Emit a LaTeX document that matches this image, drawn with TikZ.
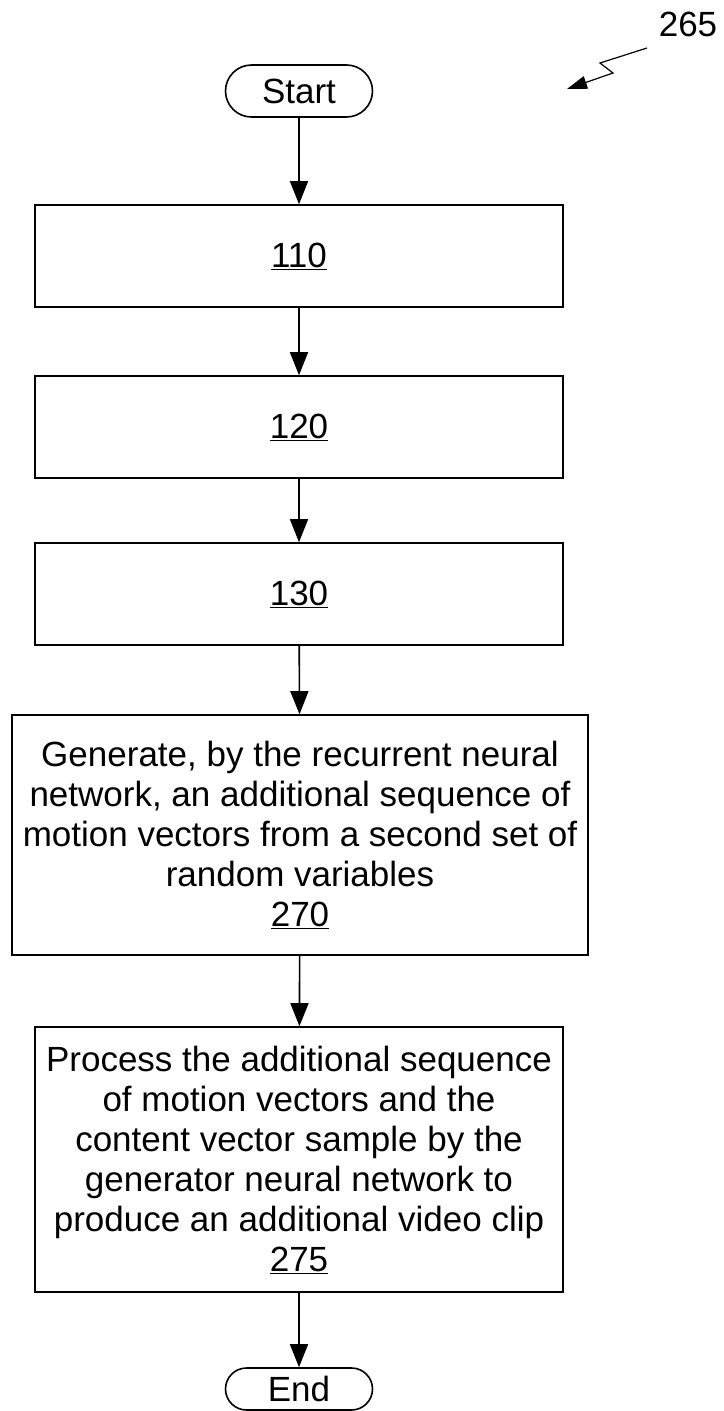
\documentclass[tikz,border=0pt]{standalone}
\usepackage{fontspec}
\setmainfont{Liberation Sans}
\usetikzlibrary{arrows.meta,shapes.misc}
\begin{document}
\begin{tikzpicture}[x=1pt,y=-1pt,
  every node/.style={font=\fontsize{35}{40}\selectfont},
  procbox/.style={draw,line width=1.6pt,rectangle,inner sep=0pt,align=center,minimum width=528pt},
  term/.style={draw,line width=1.6pt,rounded rectangle,minimum width=147pt,minimum height=52pt,inner sep=0pt},
  flow/.style={line width=1.6pt,-{Triangle[length=23pt,width=18pt]}},
  leader/.style={line width=1.2pt,-{Triangle[length=20pt,width=13pt]}}]
\useasboundingbox (0,0) rectangle (723,1411);
\node[term] (start) at (299,91) {Start};
\node[procbox,minimum height=102pt] (b110) at (299,256) {\underline{110}};
\node[procbox,minimum height=102pt] (b120) at (299,427) {\underline{120}};
\node[procbox,minimum height=102pt] (b130) at (299,594) {\underline{130}};
\node[procbox,minimum width=576pt,minimum height=240pt] (b270) at (300,835)
  {Generate, by the recurrent neural\\network, an additional sequence of\\motion vectors from a second set of\\random variables\\\underline{270}};
\node[procbox,minimum height=265pt] (b275) at (299,1159.5)
  {Process the additional sequence\\of motion vectors and the\\content vector sample by the\\generator neural network to\\produce an additional video clip\\\underline{275}};
\node[term,minimum height=42pt] (end) at (299,1389) {End};
\draw[flow] (start) -- (b110);
\draw[flow] (b110) -- (b120);
\draw[flow] (b120) -- (b130);
\draw[flow] (b130) -- (b270);
\draw[flow] (b270) -- (b275);
\draw[flow] (b275) -- (end);
\node (lbl) at (688,24) {265};
\coordinate (z0) at (647,48);
\coordinate (z1) at (600,63);
\coordinate (z2) at (613,73);
\coordinate (z3) at (567,89);
\draw[leader] (z0) -- (z1) -- (z2) -- (z3);
\end{tikzpicture}
\end{document}
